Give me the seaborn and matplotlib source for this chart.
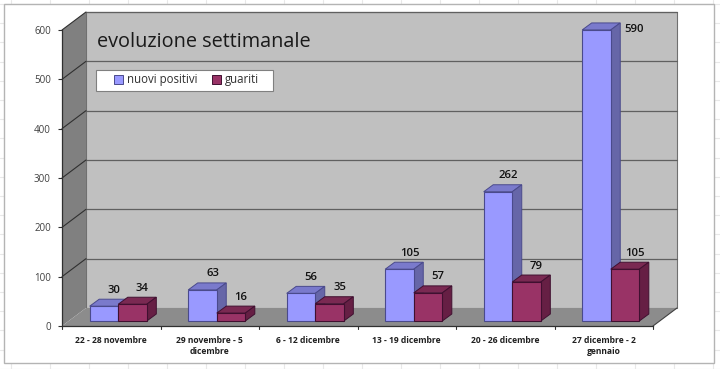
import numpy as np
import pandas as pd
import seaborn as sns
import matplotlib
matplotlib.use("Agg")
import matplotlib.pyplot as plt
from matplotlib.lines import Line2D
from matplotlib.patches import Polygon, Rectangle, Patch
from matplotlib.transforms import Affine2D, IdentityTransform

weeks = ["22 - 28 novembre", "29 novembre - 5\ndicembre", "6 - 12 dicembre",
         "13 - 19 dicembre", "20 - 26 dicembre", "27 dicembre - 2\ngennaio"]
nuovi_positivi = [30, 63, 56, 105, 262, 590]
guariti = [34, 16, 35, 57, 79, 105]
y_ticks = [0, 100, 200, 300, 400, 500, 600]

W, H = 720, 369
sns.set_style("white")
plt.rcParams["font.family"] = ["Open Sans", "DejaVu Sans"]

fig = plt.figure(figsize=(W / 100, H / 100), dpi=100, facecolor="white")
ax = fig.add_axes([62 / W, (H - 326) / H, (653 - 62) / W, (326 - 30) / H])
ax.patch.set_visible(False)

# spreadsheet cells behind the chart
for px in np.arange(11, W, 39):
    fig.add_artist(Line2D([px / W, px / W], [0, 1], color="#e8e8e8", lw=0.8, zorder=-3))
for py in np.arange(4, H, 19.2):
    fig.add_artist(Line2D([0, 1], [1 - py / H, 1 - py / H], color="#e8e8e8", lw=0.8, zorder=-3))
fig.add_artist(Rectangle((3.5 / W, 1 - 363 / H), 710 / W, 359 / H, transform=fig.transFigure,
                         facecolor="white", edgecolor="#b4b4b4", lw=1, zorder=-2))

df = pd.DataFrame({"week": weeks * 2,
                   "value": nuovi_positivi + guariti,
                   "serie": ["nuovi positivi"] * 6 + ["guariti"] * 6})
sns.barplot(data=df, x="week", y="value", hue="serie", order=weeks,
            hue_order=["nuovi positivi", "guariti"],
            palette=["#9999ff", "#993366"], width=0.58, gap=0, dodge=True,
            saturation=1, legend=False, ax=ax)
ax.set_xlim(-0.5, 5.5)
ax.set_ylim(0, 600)

back = ax.transData + Affine2D().translate(24, 18)
mid = ax.transData + Affine2D().translate(7, 5)
DEPTH = np.array([9.5, 7])

# walls and floor
def corner(tr, x, y):
    return tr.transform((x, y))

def face(points, color, z, edge="none", lw=0):
    ax.add_patch(Polygon(points, closed=True, transform=IdentityTransform(), facecolor=color,
                         edgecolor=edge, lw=lw, zorder=z, clip_on=False))

t = ax.transData
face([corner(back, -0.5, 0), corner(back, 5.5, 0), corner(back, 5.5, 600), corner(back, -0.5, 600)],
     "#c0c0c0", 0.5, "#707070", 0.8)
face([corner(t, -0.5, 0), corner(back, -0.5, 0), corner(back, -0.5, 600), corner(t, -0.5, 600)],
     "#808080", 0.6)
face([corner(t, -0.5, 0), corner(t, 5.5, 0), corner(back, 5.5, 0), corner(back, -0.5, 0)],
     "#8c8c8c", 0.6)

for v in y_ticks[1:]:
    ax.plot([-0.5, 5.5], [v, v], transform=back, color="#606060", lw=0.9, zorder=0.7, clip_on=False)
    p0, p1 = corner(t, -0.5, v), corner(back, -0.5, v)
    ax.add_line(Line2D([p0[0], p1[0]], [p0[1], p1[1]], transform=IdentityTransform(),
                       color="#303030", lw=0.8, zorder=0.7, clip_on=False))
p0, p1 = corner(t, 5.5, 0), corner(back, 5.5, 0)
ax.add_line(Line2D([p0[0], p1[0]], [p0[1], p1[1]], transform=IdentityTransform(),
                   color="#404040", lw=0.8, zorder=0.7, clip_on=False))

# 3d sides on each bar
styles = [("#7a7acc", "#6666a8", "#4a4a8c"), ("#7a2952", "#661f44", "#401030")]
for s, bars in enumerate(ax.containers):
    top_c, side_c, edge_c = styles[s]
    for bar in bars:
        x0, h = bar.get_x(), bar.get_height()
        x1 = x0 + bar.get_width()
        z = 3 + round((x0 + x1) / 2) + s * 0.5
        bl, br = corner(mid, x1, 0), corner(mid, x1, h)
        tl = corner(mid, x0, h)
        face([tl, br, br + DEPTH, tl + DEPTH], top_c, z, edge_c, 0.7)
        face([bl, br, br + DEPTH, bl + DEPTH], side_c, z + 0.1, edge_c, 0.7)
        bar.set_transform(mid)
        bar.set_clip_on(False)
        bar.set_edgecolor(edge_c)
        bar.set_linewidth(0.8)
        bar.set_zorder(z + 0.2)
        dx, dy = (37.5, 0) if h == max(nuovi_positivi) else (10, 16)
        ax.annotate(f"{int(h)}", xy=((x0 + x1) / 2, h), xycoords=mid, xytext=(dx, dy),
                    textcoords="offset pixels", ha="center", va="center", fontsize=8.2,
                    fontweight="semibold", color="#111111", zorder=20, annotation_clip=False)

# axes
sns.despine(ax=ax, top=True, right=True)
for sp in ("left", "bottom"):
    ax.spines[sp].set_color("#303030")
    ax.spines[sp].set_linewidth(0.9)
    ax.spines[sp].set_zorder(2)
ax.set_xlabel("")
ax.set_ylabel("")
ax.set_yticks(y_ticks)
ax.tick_params(axis="y", left=True, length=3, width=0.8, color="#303030", pad=5,
               labelsize=7, labelcolor="#404040")
ax.set_xticks(range(6))
ax.set_xticklabels(weeks, fontsize=6.1, fontweight="bold", color="#202020", linespacing=1.2)
ax.tick_params(axis="x", bottom=False, pad=4)
for px in np.arange(-0.5, 5.6, 1):
    p = corner(t, px, 0)
    ax.add_line(Line2D([p[0], p[0]], [p[1], p[1] - 3], transform=IdentityTransform(),
                       color="#303030", lw=0.8, clip_on=False, zorder=2))

# title and legend
fig.text(97 / W, 1 - 42 / H, "evoluzione settimanale", fontsize=14.3, color="#1a1a1a",
         va="center", ha="left")
fig.add_artist(Rectangle((95.5 / W, 1 - 90.5 / H), 177 / W, 21 / H, transform=fig.transFigure,
                         facecolor="white", edgecolor="#808080", lw=0.8, zorder=29))
handles = [Patch(facecolor="#9999ff", edgecolor="#4a4a8c", lw=0.7, label="nuovi positivi"),
           Patch(facecolor="#993366", edgecolor="#401030", lw=0.7, label="guariti")]
leg = fig.legend(handles=handles, ncol=2, loc="center left",
                 bbox_to_anchor=(113.5 / W, 1 - 80 / H), bbox_transform=fig.transFigure,
                 frameon=False, fontsize=8.3, handlelength=0.85, handleheight=0.85,
                 handletextpad=0.3, columnspacing=1.25, borderaxespad=0, borderpad=0)
leg.set_zorder(30)
for txt in leg.get_texts():
    txt.set_color("#303030")

fig.savefig("out.png", dpi=100)
